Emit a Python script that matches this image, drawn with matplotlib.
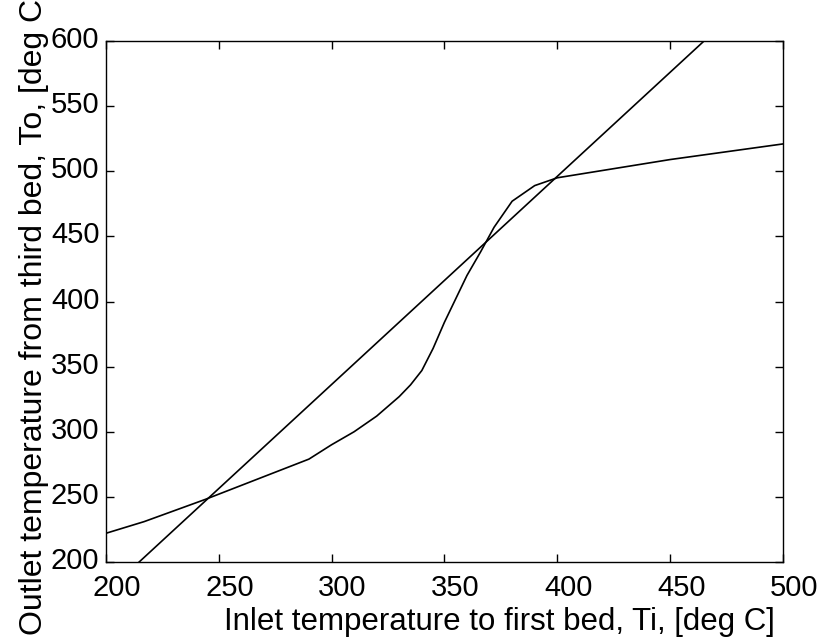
import numpy as np
import matplotlib
matplotlib.use("Agg")
import matplotlib.pyplot as plt
import matplotlib.transforms as mtransforms

plt.rcParams['font.family'] = ['Liberation Sans', 'DejaVu Sans']

# energy balance line
Ti_line = [214.8, 465.0]
To_line = [200.0, 600.0]

# third bed outlet curve
Ti_curve = [200, 217, 244, 290, 300, 310, 320, 330, 335, 340, 345, 350, 355,
            360, 366, 372, 380, 390, 400, 450, 500]
To_curve = [222, 231, 248, 279, 290, 300, 312, 327, 336, 347, 364, 384, 402,
            420, 438, 457, 477, 489, 495, 509, 521]

xticks = [200, 250, 300, 350, 400, 450, 500]
yticks = [200, 250, 300, 350, 400, 450, 500, 550, 600]

fig = plt.figure(figsize=(8.26, 6.42), dpi=100)
ax = fig.add_axes([0.128, 0.1246, 0.82, 0.8115])

ax.plot(Ti_line, To_line, color='black', lw=1.2)
ax.plot(Ti_curve, To_curve, color='black', lw=1.2)

ax.set_xlim(200, 500)
ax.set_ylim(200, 600)
ax.set_xticks(xticks)
ax.set_yticks(yticks)
ax.tick_params(direction='in', length=6, width=1, top=True, right=True,
               labelsize=21)
ax.tick_params(axis='x', pad=8.5)
ax.tick_params(axis='y', pad=4.5)
for s in ax.spines.values():
    s.set_linewidth(1.0)

# tick labels in the scan sit a little right / up of their ticks
dx = mtransforms.ScaledTranslation(11 / 100, 0, fig.dpi_scale_trans)
dy = mtransforms.ScaledTranslation(0, 4 / 100, fig.dpi_scale_trans)
for lab in ax.get_xticklabels():
    lab.set_transform(lab.get_transform() + dx)
for lab in ax.get_yticklabels():
    lab.set_transform(lab.get_transform() + dy)

ax.set_xlabel('Inlet temperature to first bed, Ti, [deg C]', fontsize=22.5)
ax.xaxis.set_label_coords(0.582, -0.086)
ax.set_ylabel('Outlet temperature from third bed, To, [deg C]', fontsize=23)
ax.yaxis.set_label_coords(-0.084, 0.478)

fig.savefig('out.png', dpi=100)
